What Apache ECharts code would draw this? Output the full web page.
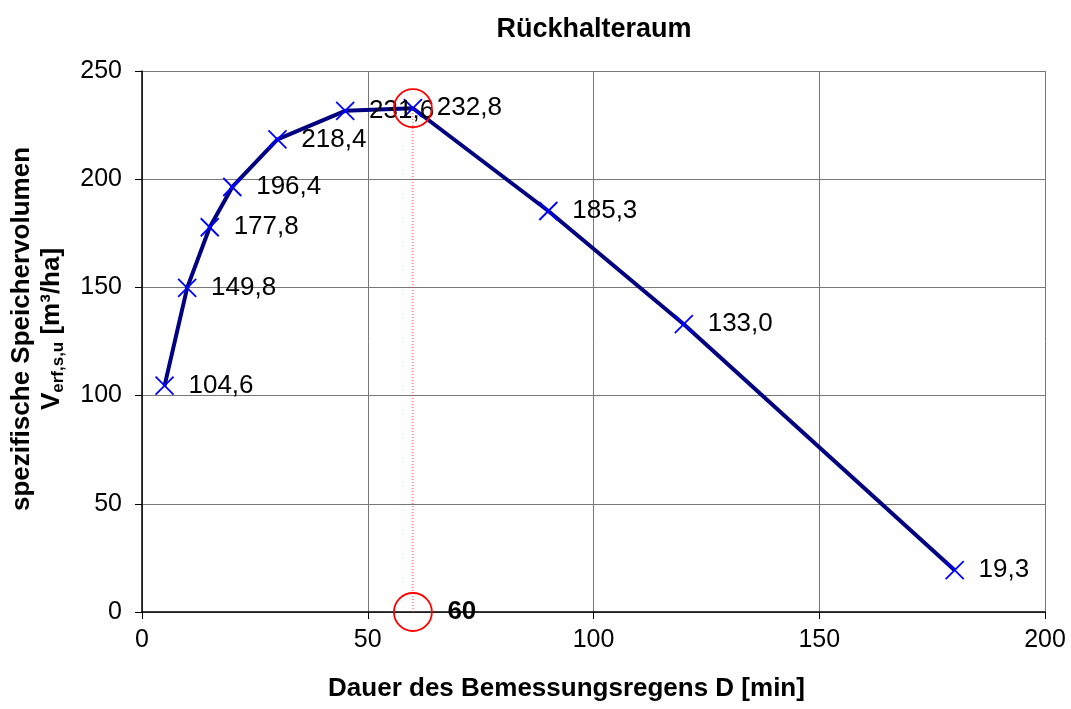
<!DOCTYPE html>
<html>
<head>
<meta charset="utf-8">
<script src="https://cdn.jsdelivr.net/npm/echarts@6/dist/echarts.min.js"></script>
<style>
  html, body { margin: 0; padding: 0; background: #fff; }
  #chart { width: 1071px; height: 709px; }
</style>
</head>
<body>
<div id="chart"></div>
<script>
// Dauer D [min] und spezifisches Speichervolumen [m3/ha]
const dauer = [5, 10, 15, 20, 30, 45, 60, 90, 120, 180];
const volumen = [104.6, 149.8, 177.8, 196.4, 218.4, 231.6, 232.8, 185.3, 133.0, 19.3];
// massgebender Punkt (Maximum)
const maxDauer = 60;
const maxVolumen = 232.8;

const FONT = '"Liberation Sans", Arial, sans-serif';
const fmt = (v) => v.toFixed(1).replace('.', ',');

const chart = echarts.init(document.getElementById('chart'));

const option = {
  animation: false,
  backgroundColor: '#fff',
  textStyle: { fontFamily: FONT },
  title: {
    text: 'Rückhalteraum',
    left: 589,
    top: 11,
    textAlign: 'center',
    textStyle: { fontFamily: FONT, fontSize: 27, fontWeight: 'bold', color: '#000' },
  },
  grid: { left: 142, right: 26, top: 71, bottom: 97 },
  xAxis: {
    type: 'value',
    min: 0,
    max: 200,
    interval: 50,
    name: 'Dauer des Bemessungsregens D [min]',
    nameLocation: 'middle',
    nameGap: 64,
    nameTextStyle: {
      fontFamily: FONT, fontSize: 26, fontWeight: 'bold', color: '#000',
      padding: [0, 54, 0, 0],
    },
    axisLine: { onZero: false, lineStyle: { color: '#000', width: 1.5 } },
    axisTick: { show: true, inside: false, length: 7, lineStyle: { color: '#000' } },
    axisLabel: { fontFamily: FONT, fontSize: 25, color: '#000', margin: 16 },
    splitLine: { show: true, lineStyle: { color: '#777', width: 1 } },
  },
  yAxis: {
    type: 'value',
    min: 0,
    max: 250,
    interval: 50,
    axisLine: { show: true, lineStyle: { color: '#000', width: 1.5 } },
    axisTick: { show: true, inside: false, length: 7, lineStyle: { color: '#000' } },
    axisLabel: { fontFamily: FONT, fontSize: 25, color: '#000', margin: 20 },
    splitLine: { show: true, lineStyle: { color: '#777', width: 1 } },
  },
  graphic: [
    {
      type: 'text',
      x: 37,
      y: 329,
      rotation: Math.PI / 2,
      style: {
        text: '{b|spezifische Speichervolumen}\n{b|V}{s|erf,s,u}{b| [m³/ha]}',
        font: 'bold 26px ' + FONT,
        fill: '#000',
        align: 'center',
        verticalAlign: 'middle',
        lineHeight: 30,
        rich: {
          b: { fontFamily: FONT, fontSize: 26, fontWeight: 'bold', lineHeight: 30 },
          s: { fontFamily: FONT, fontSize: 17, fontWeight: 'bold', lineHeight: 30, padding: [12, 0, 0, 0] },
        },
      },
    },
  ],
  series: [
    {
      type: 'line',
      data: dauer.map((d, i) => [d, volumen[i]]),
      symbol: 'path://M0,0L10,10M10,0L0,10',
      symbolSize: 18,
      showAllSymbol: true,
      lineStyle: { color: '#000080', width: 4 },
      itemStyle: { color: '#0000ff', borderColor: '#0000ff', borderWidth: 1.8 },
      label: {
        show: true,
        position: 'right',
        distance: 14,
        fontFamily: FONT,
        fontSize: 26,
        color: '#000',
        formatter: (p) => fmt(p.value[1]),
      },
      labelLayout: { hideOverlap: false },
      z: 3,
    },
    {
      type: 'line',
      data: [[maxDauer, 0], [maxDauer, maxVolumen]],
      symbol: 'none',
      lineStyle: { color: '#ff4040', width: 1, type: [1, 2] },
      z: 2,
      silent: true,
    },
    {
      type: 'scatter',
      data: [[maxDauer, maxVolumen], [maxDauer, 0]],
      symbol: 'circle',
      symbolSize: 38,
      itemStyle: { color: 'none', borderColor: '#ff0000', borderWidth: 1.8, opacity: 1 },
      label: {
        show: true,
        position: 'right',
        distance: 13,
        fontFamily: FONT,
        fontSize: 26,
        fontWeight: 'bold',
        color: '#000',
        formatter: (p) => (p.value[1] === 0 ? String(maxDauer) : ''),
      },
      z: 5,
      silent: true,
    },
  ],
};

chart.setOption(option);
</script>
</body>
</html>
